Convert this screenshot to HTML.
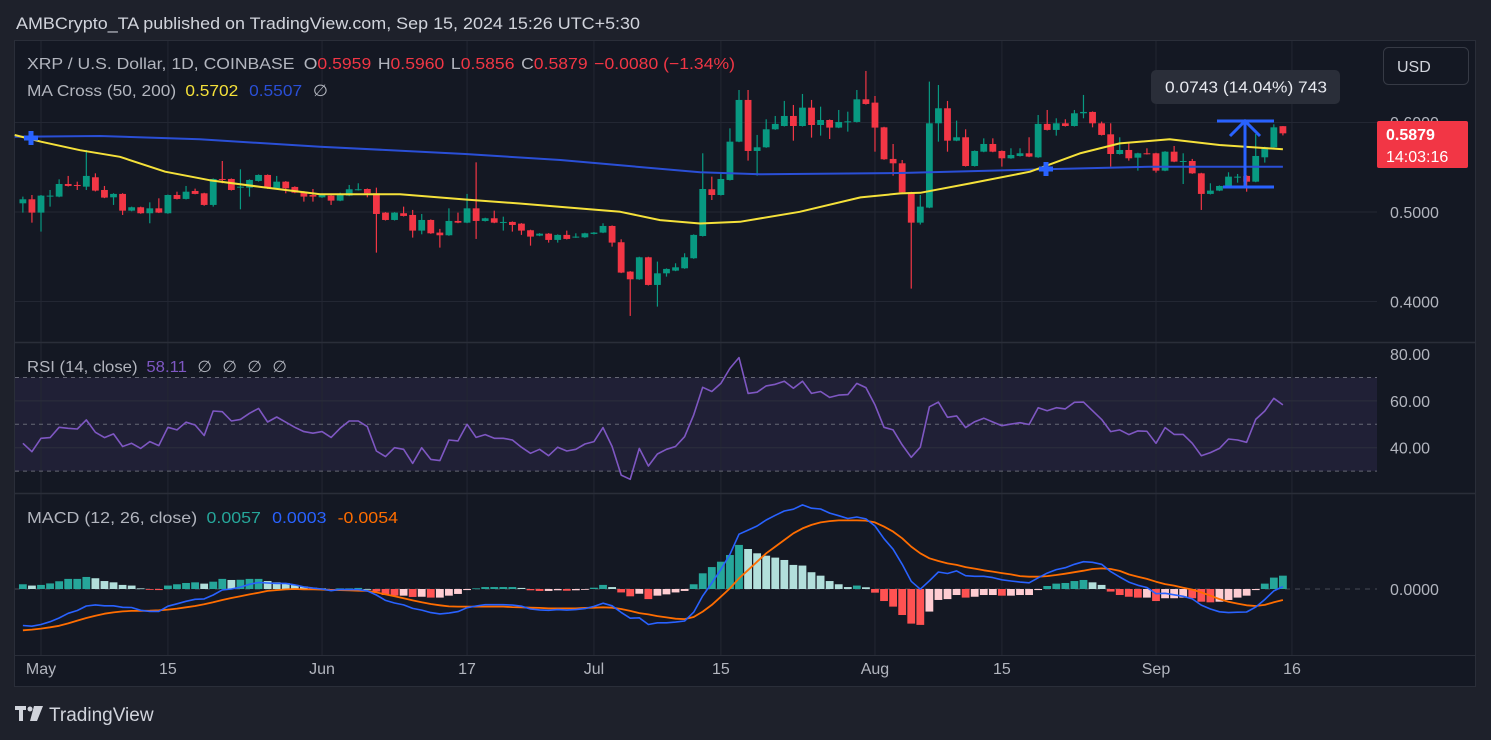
<!DOCTYPE html>
<html><head><meta charset="utf-8"><style>
html,body{margin:0;padding:0;background:#1e212b;}
svg{display:block;font-family:"Liberation Sans",sans-serif;}
</style></head><body>
<svg id="chart" width="1491" height="740" viewBox="0 0 1491 740" xmlns="http://www.w3.org/2000/svg">
<rect x="0" y="0" width="1491" height="740" fill="#1e212b"/>
<text x="16" y="29" font-size="17" fill="#d1d4dc" textLength="624" lengthAdjust="spacingAndGlyphs">AMBCrypto_TA published on TradingView.com, Sep 15, 2024 15:26 UTC+5:30</text>
<rect x="14.5" y="40.5" width="1461" height="646" fill="#141823" stroke="#2a2e39"/>
<rect x="15" y="377.5" width="1362" height="93.6" fill="rgba(126,87,194,0.12)"/>
<g id="grid"></g>
<line x1="15" y1="342.5" x2="1475" y2="342.5" stroke="#2a2e39" stroke-width="1.5"/>
<line x1="15" y1="493.5" x2="1475" y2="493.5" stroke="#2a2e39" stroke-width="1.5"/>
<line x1="15" y1="655.5" x2="1475" y2="655.5" stroke="#2a2e39" stroke-width="1"/>
<g id="rsiLevels"></g>
<g id="candles"></g>
<g id="mas"></g>
<g id="rsi"></g>
<g id="macd"></g>
<g id="axes"></g>

<g fill="#2962ff"><rect x="24" y="135.5" width="14" height="5"/><rect x="28.5" y="131" width="5" height="14"/></g>
<g fill="#2962ff"><rect x="1039" y="166.5" width="14" height="5"/><rect x="1043.5" y="162" width="5" height="14"/></g>

<g stroke="#2962ff" stroke-width="3" fill="none">
<line x1="1217" y1="121" x2="1274" y2="121"/>
<line x1="1223" y1="187" x2="1274" y2="187"/>
<line x1="1245" y1="121" x2="1245" y2="187"/>
<polyline points="1230,136 1245,121 1260,136"/>
</g>
<rect x="1151" y="70" width="189" height="34" rx="5" fill="#2a2e39"/>
<text x="1165" y="92.5" font-size="16" fill="#e8eaf0" textLength="162" lengthAdjust="spacingAndGlyphs">0.0743 (14.04%) 743</text>

<rect x="1383.5" y="47.5" width="85" height="37" rx="5" fill="none" stroke="#363a45"/>
<text x="1397" y="72" font-size="16" fill="#d1d4dc">USD</text>

<text x="27" y="69" font-size="16" fill="#b2b5be" textLength="708" lengthAdjust="spacingAndGlyphs">XRP / U.S. Dollar, 1D, COINBASE <tspan dx="4">O</tspan><tspan fill="#f23645">0.5959</tspan><tspan dx="6">H</tspan><tspan fill="#f23645">0.5960</tspan><tspan dx="6">L</tspan><tspan fill="#f23645">0.5856</tspan><tspan dx="6">C</tspan><tspan fill="#f23645">0.5879</tspan><tspan dx="6" fill="#f23645">−0.0080 (−1.34%)</tspan></text>
<text x="27" y="96" font-size="16" fill="#b2b5be" textLength="301" lengthAdjust="spacingAndGlyphs">MA Cross (50, 200) <tspan dx="4" fill="#f5e13a">0.5702</tspan><tspan dx="10" fill="#2a4fd6">0.5507</tspan><tspan dx="10">∅</tspan></text>
<text x="27" y="372" font-size="16" fill="#b2b5be" textLength="260" lengthAdjust="spacingAndGlyphs">RSI (14, close) <tspan dx="4" fill="#7e57c2">58.11</tspan><tspan dx="10">∅</tspan><tspan dx="10">∅</tspan><tspan dx="10">∅</tspan><tspan dx="10">∅</tspan></text>
<text x="27" y="523" font-size="16" fill="#b2b5be" textLength="371" lengthAdjust="spacingAndGlyphs">MACD (12, 26, close) <tspan dx="4" fill="#26a69a">0.0057</tspan><tspan dx="10" fill="#2962ff">0.0003</tspan><tspan dx="10" fill="#ff6d00">-0.0054</tspan></text>

<text x="1390" y="128" font-size="16" fill="#b2b5be">0.6000</text>
<rect x="1377" y="121" width="91" height="47" rx="2" fill="#f23645"/>
<text x="1386" y="140" font-size="16" font-weight="bold" fill="#ffffff">0.5879</text>
<text x="1386" y="162" font-size="16" fill="#ffffff">14:03:16</text>

<g fill="#d1d4dc">
<rect x="15" y="706" width="11" height="4"/><rect x="19" y="706" width="4" height="15"/>
<circle cx="30" cy="709" r="2.5"/><polygon points="34,706 43,706 37,721 30,721"/>
</g>
<text x="49" y="721" font-size="19" fill="#d1d4dc">TradingView</text>
</svg>
<script>
// ===== data =====
const firstDay = -2; // days relative to May 1
const opens = [0.5097,0.5142,0.4993,0.5172,0.5172,0.5313,0.5302,0.5283,0.5388,0.5246,0.5164,0.5202,0.5015,0.5053,0.4986,0.5041,0.4986,0.5190,0.5146,0.5235,0.5209,0.5079,0.5369,0.5369,0.5272,0.5272,0.5347,0.5414,0.5265,0.5339,0.5280,0.5227,0.5190,0.5164,0.5183,0.5127,0.5183,0.5246,0.5257,0.5209,0.4993,0.4911,0.4986,0.4967,0.4792,0.4911,0.4770,0.4740,0.4900,0.4881,0.5041,0.4900,0.4930,0.4881,0.4889,0.4870,0.4796,0.4736,0.4758,0.4688,0.4744,0.4717,0.4717,0.4755,0.4770,0.4844,0.4662,0.4334,0.4248,0.4494,0.4185,0.4315,0.4345,0.4371,0.4483,0.4732,0.5254,0.5190,0.5358,0.5786,0.6252,0.5682,0.5723,0.5924,0.5961,0.6073,0.5961,0.6166,0.5972,0.6028,0.5943,0.6006,0.6006,0.6259,0.6222,0.5946,0.5593,0.5544,0.5220,0.4881,0.5049,0.5991,0.6159,0.5797,0.5835,0.5514,0.5674,0.5760,0.5682,0.5600,0.5626,0.5656,0.5611,0.5984,0.5917,0.5991,0.5961,0.6103,0.6118,0.5991,0.5868,0.5648,0.5693,0.5607,0.5656,0.5656,0.5462,0.5674,0.5563,0.5570,0.5432,0.5202,0.5239,0.5283,0.5388,0.5403,0.5339,0.5611,0.5723,0.5959];
const highs = [0.5172,0.5190,0.5190,0.5246,0.5365,0.5403,0.5339,0.5693,0.5432,0.5291,0.5210,0.5210,0.5060,0.5060,0.5108,0.5153,0.5195,0.5227,0.5291,0.5261,0.5215,0.5375,0.5570,0.5375,0.5477,0.5365,0.5420,0.5420,0.5403,0.5345,0.5287,0.5233,0.5257,0.5208,0.5189,0.5216,0.5302,0.5321,0.5263,0.5272,0.4999,0.4999,0.5060,0.5023,0.4978,0.4917,0.4811,0.5041,0.4993,0.5202,0.5555,0.4936,0.5015,0.4948,0.4895,0.4876,0.4802,0.4764,0.4764,0.4750,0.4792,0.4762,0.4768,0.4776,0.4874,0.4850,0.4695,0.4340,0.4500,0.4500,0.4446,0.4370,0.4427,0.4539,0.4750,0.5656,0.5395,0.5432,0.5935,0.6363,0.6363,0.5861,0.6036,0.6073,0.6241,0.6196,0.6319,0.6252,0.6177,0.6034,0.6140,0.6121,0.6363,0.6576,0.6296,0.5952,0.5760,0.5581,0.5226,0.5190,0.6457,0.6419,0.6241,0.6021,0.5924,0.5688,0.5823,0.5823,0.5688,0.5712,0.5712,0.5835,0.6084,0.6140,0.6047,0.6036,0.6140,0.6308,0.6124,0.6010,0.5991,0.5835,0.5768,0.5662,0.5712,0.5662,0.5680,0.5738,0.5656,0.5593,0.5438,0.5321,0.5297,0.5444,0.5425,0.5410,0.5872,0.5730,0.5980,0.5960];
const lows = [0.4993,0.4881,0.4781,0.5060,0.5165,0.5285,0.5246,0.5246,0.5230,0.5155,0.5079,0.4967,0.5008,0.4980,0.4874,0.4988,0.4980,0.5140,0.5140,0.5198,0.5070,0.5060,0.5321,0.5240,0.5030,0.5172,0.5340,0.5258,0.5258,0.5209,0.5210,0.5116,0.5116,0.5158,0.5079,0.5121,0.5177,0.5240,0.5164,0.4546,0.4905,0.4905,0.4950,0.4714,0.4751,0.4756,0.4602,0.4734,0.4875,0.4875,0.4699,0.4894,0.4875,0.4792,0.4781,0.4744,0.4624,0.4730,0.4658,0.4658,0.4693,0.4711,0.4711,0.4749,0.4764,0.4613,0.4317,0.3839,0.4242,0.4179,0.3943,0.4278,0.4339,0.4365,0.4477,0.4726,0.5134,0.5184,0.5352,0.5780,0.5574,0.5406,0.5717,0.5918,0.5955,0.5797,0.5955,0.5831,0.5853,0.5816,0.5937,0.5898,0.6000,0.6200,0.5674,0.5583,0.5406,0.5214,0.4144,0.4860,0.5043,0.5786,0.5674,0.5791,0.5508,0.5508,0.5668,0.5668,0.5507,0.5594,0.5620,0.5613,0.5605,0.5911,0.5853,0.5955,0.5955,0.6047,0.5946,0.5855,0.5507,0.5642,0.5574,0.5462,0.5642,0.5440,0.5456,0.5557,0.5313,0.5426,0.5023,0.5196,0.5233,0.5277,0.5328,0.5227,0.5333,0.5552,0.5717,0.5856];
const closes = [0.5142,0.4993,0.5183,0.5183,0.5313,0.5291,0.5295,0.5403,0.5239,0.5161,0.5202,0.5015,0.5053,0.4986,0.5041,0.4993,0.5190,0.5146,0.5227,0.5202,0.5079,0.5369,0.5358,0.5246,0.5283,0.5358,0.5414,0.5265,0.5339,0.5265,0.5216,0.5172,0.5172,0.5202,0.5127,0.5190,0.5254,0.5254,0.5209,0.4978,0.4911,0.4993,0.4956,0.4792,0.4911,0.4762,0.4740,0.4900,0.4881,0.5041,0.4900,0.4930,0.4881,0.4889,0.4855,0.4792,0.4725,0.4758,0.4688,0.4744,0.4699,0.4725,0.4762,0.4770,0.4844,0.4658,0.4323,0.4248,0.4494,0.4185,0.4315,0.4364,0.4382,0.4494,0.4744,0.5257,0.5190,0.5369,0.5786,0.6252,0.5682,0.5723,0.5924,0.5984,0.6073,0.5961,0.6166,0.5972,0.6028,0.5943,0.6006,0.6013,0.6259,0.6207,0.5943,0.5589,0.5544,0.5220,0.4881,0.5060,0.5991,0.6159,0.5797,0.5835,0.5514,0.5682,0.5760,0.5674,0.5600,0.5637,0.5656,0.5619,0.5984,0.5917,0.5991,0.5961,0.6103,0.6118,0.5991,0.5861,0.5648,0.5693,0.5600,0.5656,0.5648,0.5462,0.5674,0.5563,0.5570,0.5432,0.5202,0.5239,0.5291,0.5395,0.5395,0.5339,0.5626,0.5723,0.5946,0.5879];
const maDays = [-2.9,0,4.3,8.7,13.7,18.6,24.2,30.8,39.6,46.8,52.8,59.5,63.9,68.3,72.7,77.1,83.7,90.4,94.8,97,102.5,109.1,114.6,119,124.5,130,137];
const ma50 = [0.5860,0.5785,0.5691,0.5617,0.5450,0.5355,0.5280,0.5199,0.5199,0.5140,0.5095,0.5039,0.5002,0.4909,0.4872,0.4891,0.5002,0.5163,0.5208,0.5214,0.5319,0.5450,0.5655,0.5767,0.5812,0.5749,0.5701];
const ma200Days = [-2.9,6.5,17.5,30.8,46.8,57.3,72.7,79.3,94.8,110.8,122.3,137];
const ma200 = [0.5841,0.5849,0.5812,0.5730,0.5648,0.5581,0.5444,0.5421,0.5436,0.5477,0.5506,0.5506];
const rsiValues = [41.9,38.3,44.0,44.3,48.7,48.3,48.0,51.9,46.6,44.3,45.9,40.5,41.9,39.7,42.6,40.9,48.7,47.6,50.9,49.7,45.2,55.7,55.4,51.4,52.1,54.7,56.8,51.0,53.1,50.9,48.7,46.9,46.2,46.9,44.4,48.3,51.4,51.4,49.0,38.6,36.2,40.0,39.3,33.3,40.0,35.0,34.5,43.3,42.9,50.0,44.4,45.6,44.0,44.0,43.3,40.2,37.6,39.3,36.6,40.2,38.6,39.3,41.6,42.6,48.6,40.5,28.3,26.5,39.7,32.2,37.3,39.3,40.5,44.7,54.0,65.8,64.0,67.5,73.9,78.5,63.2,63.7,66.4,67.1,68.4,65.4,68.4,63.2,64.0,61.5,62.5,62.7,67.5,65.7,58.3,48.7,47.6,41.2,35.9,40.2,57.5,59.5,53.0,53.6,48.6,51.1,52.6,51.0,49.4,50.1,50.7,49.9,57.1,55.8,57.1,56.6,59.4,59.5,55.8,52.1,46.9,47.6,45.6,47.2,47.0,41.9,48.6,45.7,45.7,41.9,36.6,37.9,39.7,43.7,43.3,42.3,52.1,55.7,61.1,58.3];
const signalValues = [-0.0192,-0.0189,-0.0184,-0.0178,-0.0171,-0.0160,-0.0147,-0.0135,-0.0124,-0.0115,-0.0109,-0.0104,-0.0102,-0.0102,-0.0101,-0.0099,-0.0096,-0.0091,-0.0085,-0.0079,-0.0071,-0.0062,-0.0051,-0.0042,-0.0034,-0.0025,-0.0017,-0.0009,-0.0005,-0.0002,0.0000,-0.0002,-0.0002,-0.0003,-0.0005,-0.0005,-0.0006,-0.0008,-0.0009,-0.0016,-0.0025,-0.0034,-0.0043,-0.0053,-0.0062,-0.0070,-0.0076,-0.0081,-0.0082,-0.0082,-0.0082,-0.0082,-0.0082,-0.0082,-0.0084,-0.0085,-0.0087,-0.0088,-0.0090,-0.0090,-0.0090,-0.0090,-0.0088,-0.0087,-0.0085,-0.0087,-0.0093,-0.0102,-0.0112,-0.0118,-0.0126,-0.0132,-0.0138,-0.0140,-0.0130,-0.0105,-0.0074,-0.0036,0.0003,0.0050,0.0088,0.0127,0.0166,0.0197,0.0228,0.0259,0.0282,0.0298,0.0310,0.0316,0.0319,0.0319,0.0319,0.0318,0.0310,0.0290,0.0267,0.0236,0.0197,0.0166,0.0143,0.0130,0.0119,0.0112,0.0102,0.0095,0.0087,0.0081,0.0074,0.0068,0.0060,0.0057,0.0057,0.0060,0.0065,0.0071,0.0078,0.0085,0.0093,0.0096,0.0093,0.0084,0.0068,0.0057,0.0047,0.0034,0.0023,0.0016,0.0006,-0.0003,-0.0016,-0.0031,-0.0047,-0.0059,-0.0068,-0.0076,-0.0079,-0.0074,-0.0062,-0.0051];
const histValues = [0.0022,0.0016,0.0019,0.0026,0.0036,0.0047,0.0047,0.0056,0.0050,0.0037,0.0031,0.0019,0.0016,0.0003,-0.0003,-0.0005,0.0016,0.0022,0.0028,0.0031,0.0025,0.0034,0.0047,0.0042,0.0043,0.0047,0.0047,0.0037,0.0031,0.0028,0.0019,0.0012,0.0006,0.0003,-0.0003,0.0003,0.0003,0.0005,0.0000,-0.0012,-0.0028,-0.0031,-0.0031,-0.0037,-0.0036,-0.0040,-0.0040,-0.0031,-0.0023,-0.0005,0.0003,0.0009,0.0009,0.0009,0.0009,0.0005,-0.0006,-0.0009,-0.0009,-0.0006,-0.0008,-0.0006,-0.0003,0.0006,0.0019,0.0009,-0.0016,-0.0034,-0.0022,-0.0047,-0.0031,-0.0025,-0.0016,-0.0009,0.0022,0.0073,0.0102,0.0127,0.0158,0.0205,0.0186,0.0166,0.0155,0.0146,0.0135,0.0112,0.0109,0.0078,0.0062,0.0037,0.0022,0.0009,0.0016,0.0008,-0.0017,-0.0056,-0.0082,-0.0121,-0.0161,-0.0167,-0.0105,-0.0051,-0.0047,-0.0028,-0.0040,-0.0036,-0.0028,-0.0028,-0.0031,-0.0031,-0.0028,-0.0028,-0.0005,0.0014,0.0025,0.0028,0.0037,0.0042,0.0031,0.0019,-0.0012,-0.0028,-0.0036,-0.0040,-0.0040,-0.0056,-0.0043,-0.0043,-0.0040,-0.0043,-0.0059,-0.0062,-0.0059,-0.0051,-0.0040,-0.0031,-0.0005,0.0025,0.0053,0.0062];
const timeLabels = ['May','15','Jun','17','Jul','15','Aug','15','Sep','16'];
const timeLabelDays = [0,14,31,47,61,75,92,106,123,138];
const priceTicks = [0.5,0.4];
const priceGrid = [0.6,0.5,0.4];
const rsiTicks = [80,60,40];
const rsiLevels = [70,50,30];

// ===== axes =====
const NS = 'http://www.w3.org/2000/svg';
function xOf(d){return 41 + 9.065*d;}
function yP(p){return 212 - (p-0.5)*895;}
function yR(r){return 424.3 - (r-50)*2.34;}
function yM(v){return 589 - v*2150;}
function el(tag, parent){const e=document.createElementNS(NS,tag);parent.appendChild(e);return e;}

const grid=document.getElementById('grid');
timeLabelDays.forEach(function(d){
  const l=el('line',grid);
  
  
  l.setAttribute('x1',xOf(d));l.setAttribute('x2',xOf(d));
  l.setAttribute('y1',41);l.setAttribute('y2',655);
  l.setAttribute('stroke','#232733');
});
priceGrid.forEach(function(p){
  const l=el('line',grid);
  
  
  l.setAttribute('x1',15);l.setAttribute('x2',1377);
  l.setAttribute('y1',yP(p));l.setAttribute('y2',yP(p));
  l.setAttribute('stroke','#232733');
});
[60,40].forEach(function(r){
  const l=el('line',grid);
  
  
  l.setAttribute('x1',15);l.setAttribute('x2',1377);
  l.setAttribute('y1',yR(r));l.setAttribute('y2',yR(r));
  l.setAttribute('stroke','#2c2f3d');
});

const lv=document.getElementById('rsiLevels');
rsiLevels.forEach(function(r){
  const l=el('line',lv);
  
  
  l.setAttribute('x1',15);l.setAttribute('x2',1377);
  l.setAttribute('y1',yR(r));l.setAttribute('y2',yR(r));
  l.setAttribute('stroke','#787b86');l.setAttribute('stroke-dasharray','4 4');l.setAttribute('stroke-opacity','0.8');
});
const zl=el('line',lv);


zl.setAttribute('x1',15);zl.setAttribute('x2',1377);
zl.setAttribute('y1',yM(0));zl.setAttribute('y2',yM(0));
zl.setAttribute('stroke','#787b86');zl.setAttribute('stroke-dasharray','5 5');zl.setAttribute('stroke-opacity','0.5');

// ===== candles =====
const cg=document.getElementById('candles');
for(let i=0;i<closes.length;i++){
  const d=firstDay+i, x=xOf(d);
  const o=opens[i], c=closes[i];
  const h=Math.max(highs[i],o,c), lo=Math.min(lows[i],o,c);
  const col = c>=o ? '#089981' : '#f23645';
  const w=el('line',cg);
  
  
  w.setAttribute('x1',x);w.setAttribute('x2',x);w.setAttribute('y1',yP(h));w.setAttribute('y2',yP(lo));
  w.setAttribute('stroke',col);w.setAttribute('stroke-width','1.2');
  const b=el('rect',cg);
  
  
  const top=Math.min(yP(o),yP(c)), hh=Math.max(1,Math.abs(yP(o)-yP(c)));
  b.setAttribute('x',x-3.4);b.setAttribute('y',top);b.setAttribute('width',6.8);b.setAttribute('height',hh);
  b.setAttribute('fill',col);
}

// ===== moving averages =====
const mg=document.getElementById('mas');
function polyline(parent,xs,ys,color,width,name){
  const p=el('polyline',parent);
  
  
  p.setAttribute('points',xs.map(function(x,i){return x.toFixed(1)+','+ys[i].toFixed(1);}).join(' '));
  p.setAttribute('fill','none');p.setAttribute('stroke',color);p.setAttribute('stroke-width',width);
  p.setAttribute('stroke-linejoin','round');
  return p;
}
polyline(mg,ma200Days.map(xOf),ma200.map(yP),'#2a4fd6',2,'ma200-line');
polyline(mg,maDays.map(xOf),ma50.map(yP),'#f5e13a',2,'ma50-line');

// ===== RSI =====
const rg=document.getElementById('rsi');
polyline(rg,rsiValues.map(function(v,i){return xOf(firstDay+i);}),rsiValues.map(yR),'#7e57c2',1.6,'rsi-line');

// ===== MACD =====
const mcg=document.getElementById('macd');
for(let i=0;i<histValues.length;i++){
  const v=histValues[i], prev=i>0?histValues[i-1]:v;
  let col;
  if(v>=0) col = v>=prev ? '#26a69a' : '#b2dfdb';
  else col = v<prev ? '#ff5252' : '#ffcdd2';
  const x=xOf(firstDay+i);
  const r=el('rect',mcg);
  
  
  const y0=yM(0), y1=yM(v);
  r.setAttribute('x',x-3.9);r.setAttribute('width',7.8);
  r.setAttribute('y',Math.min(y0,y1));r.setAttribute('height',Math.max(0.8,Math.abs(y1-y0)));
  r.setAttribute('fill',col);
}
const macdValues = signalValues.map(function(s,i){return s+histValues[i];});
const mx = signalValues.map(function(v,i){return xOf(firstDay+i);});
polyline(mcg,mx,signalValues.map(yM),'#ff6d00',1.8,'macd-signal-line');
polyline(mcg,mx,macdValues.map(yM),'#2962ff',1.6,'macd-line');

// ===== axis labels =====
const ag=document.getElementById('axes');
function label(txt,x,y,name,anchor){
  const t=el('text',ag);
  
  
  t.setAttribute('x',x);t.setAttribute('y',y);
  t.setAttribute('font-size','16');t.setAttribute('fill','#b2b5be');
  if(anchor) t.setAttribute('text-anchor',anchor);
  t.textContent=txt;
}
priceTicks.forEach(function(p){label(p.toFixed(4),1390,yP(p)+6,'price-tick');});
rsiTicks.forEach(function(r){label(r.toFixed(2),1390,yR(r)+6,'rsi-tick');});
label('0.0000',1390,yM(0)+6,'macd-tick');
timeLabels.forEach(function(s,i){label(s,xOf(timeLabelDays[i]),674,'time-label','middle');});
</script>
</body></html>
